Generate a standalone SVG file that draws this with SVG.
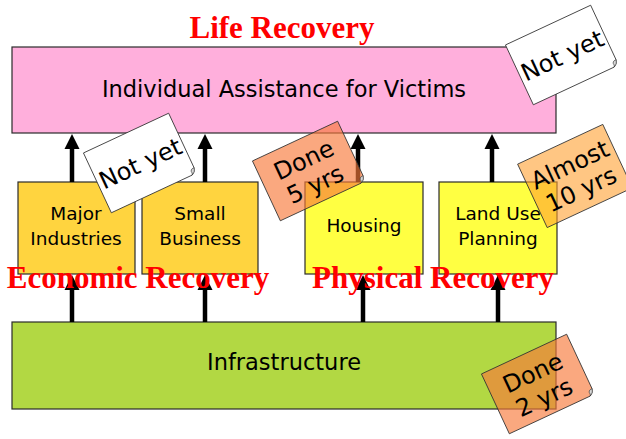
<svg xmlns="http://www.w3.org/2000/svg" width="626" height="439" viewBox="0 0 626 439">
  <style>
    .box { stroke: #2b2b2b; stroke-width: 1.2; }
    .lbl { font-family: "DejaVu Sans", "Noto Sans", sans-serif; fill: #000; text-anchor: middle; }
    .big { font-size: 22.5px; }
    .small { font-size: 18.5px; }
    .red { font-family: "Liberation Serif", "Times New Roman", serif; font-weight: bold; font-size: 31px; fill: #ff0000; text-anchor: middle; }
    .shaft { stroke: #000; stroke-width: 4.5; fill: none; }
    .note { stroke: #333; stroke-width: 0.8; }
    .ntext { font-family: "DejaVu Sans", "Noto Sans", sans-serif; font-size: 24px; fill: #000; text-anchor: middle; }
    .curl { fill: #d8d8d8; stroke: #333; stroke-width: 0.6; }
  </style>
  <defs>
    <!-- note sheet with a clipped bottom-right corner -->
    <path id="sheet" d="M -47,-33 H 47 V 27 Q 46,31 42,33 H -47 Z"/>
    <path id="fold" d="M 47,27 Q 42,27 43,31 Q 43,33 42,33 Q 46,32 47,27 Z"/>
  </defs>
  <rect width="626" height="439" fill="#ffffff"/>

  <!-- top box -->
  <g id="victims">
    <rect class="box" x="12" y="47" width="544" height="86" fill="#ffafdc"/>
    <text class="lbl big" x="284" y="97">Individual Assistance for Victims</text>
  </g>

  <!-- middle row -->
  <g id="major-industries">
    <rect class="box" x="18" y="182" width="117" height="92" fill="#ffd43f"/>
    <text class="lbl small" x="76" y="220">Major</text>
    <text class="lbl small" x="76" y="245">Industries</text>
  </g>
  <g id="small-business">
    <rect class="box" x="142" y="182" width="116" height="92" fill="#ffd43f"/>
    <text class="lbl small" x="200" y="220">Small</text>
    <text class="lbl small" x="200" y="245">Business</text>
  </g>
  <g id="housing">
    <rect class="box" x="305" y="182" width="118" height="92" fill="#ffff42"/>
    <text class="lbl small" x="364" y="232">Housing</text>
  </g>
  <g id="land-use">
    <rect class="box" x="439" y="182" width="118" height="92" fill="#ffff42"/>
    <text class="lbl small" x="498" y="220">Land Use</text>
    <text class="lbl small" x="498" y="245">Planning</text>
  </g>

  <!-- bottom box -->
  <g id="infrastructure">
    <rect class="box" x="12" y="322" width="544" height="87" fill="#b2d843"/>
    <text class="lbl big" x="284" y="370">Infrastructure</text>
  </g>

  <!-- upward arrows -->
  <g id="connectors">
    <line class="shaft" x1="72" y1="182" x2="72" y2="146"/>
    <polygon points="72,134 64.5,149 79.5,149"/>
    <line class="shaft" x1="205" y1="182" x2="205" y2="146"/>
    <polygon points="205,134 197.5,149 212.5,149"/>
    <line class="shaft" x1="358" y1="182" x2="358" y2="146"/>
    <polygon points="358,134 350.5,149 365.5,149"/>
    <line class="shaft" x1="492" y1="182" x2="492" y2="146"/>
    <polygon points="492,134 484.5,149 499.5,149"/>

    <line class="shaft" x1="72" y1="322" x2="72" y2="287"/>
    <polygon points="72,275 64.5,290 79.5,290"/>
    <line class="shaft" x1="205" y1="322" x2="205" y2="287"/>
    <polygon points="205,275 197.5,290 212.5,290"/>
    <line class="shaft" x1="363" y1="322" x2="363" y2="287"/>
    <polygon points="363,275 355.5,290 370.5,290"/>
    <line class="shaft" x1="498" y1="322" x2="498" y2="287"/>
    <polygon points="498,275 490.5,290 505.5,290"/>
  </g>

  <!-- section headings -->
  <text class="red" x="282" y="38">Life Recovery</text>
  <text class="red" x="138" y="288">Economic Recovery</text>
  <text class="red" x="433" y="288">Physical Recovery</text>

  <!-- status notes -->
  <g id="note-life" transform="translate(562,55) rotate(-25)">
    <use href="#sheet" class="note" fill="#ffffff"/>
    <use href="#fold" class="curl"/>
    <text class="ntext" x="0" y="9" font-size="25">Not yet</text>
  </g>
  <g id="note-economic" transform="translate(140,163) rotate(-25)">
    <use href="#sheet" class="note" fill="#ffffff"/>
    <use href="#fold" class="curl"/>
    <text class="ntext" x="0" y="9" font-size="25">Not yet</text>
  </g>
  <g id="note-housing" transform="translate(309,171) rotate(-25)">
    <use href="#sheet" class="note" fill="#f77a3a" fill-opacity="0.65"/>
    <use href="#fold" class="curl" fill="#e07020"/>
    <text class="ntext" x="0" y="-4">Done</text>
    <text class="ntext" x="0" y="23">5 yrs</text>
  </g>
  <g id="note-landuse" transform="translate(575,176) rotate(-25)">
    <rect x="-47" y="-35" width="94" height="70" class="note" fill="#ffa030" fill-opacity="0.6"/>
    <text class="ntext" x="0" y="-4">Almost</text>
    <text class="ntext" x="0" y="23">10 yrs</text>
  </g>
  <g id="note-infra" transform="translate(538,384) rotate(-25)">
    <use href="#sheet" class="note" fill="#f77a3a" fill-opacity="0.65"/>
    <use href="#fold" class="curl" fill="#e07020"/>
    <text class="ntext" x="0" y="-4">Done</text>
    <text class="ntext" x="0" y="23">2 yrs</text>
  </g>
</svg>
